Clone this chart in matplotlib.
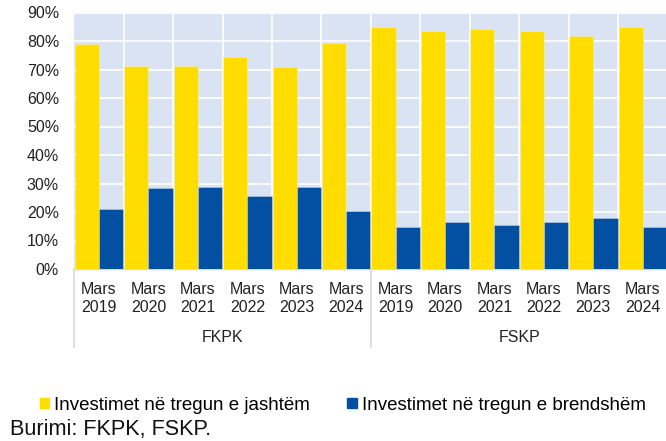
import matplotlib.pyplot as plt
from matplotlib.patches import Patch
from matplotlib.lines import Line2D
from matplotlib.transforms import blended_transform_factory

plt.rcParams["font.family"] = ["Liberation Sans", "DejaVu Sans"]

funds = ["FKPK", "FSKP"]
periods = ["Mars\n2019", "Mars\n2020", "Mars\n2021", "Mars\n2022", "Mars\n2023", "Mars\n2024"]
# share of assets (%), FKPK first then FSKP
foreign = [78.9, 71.3, 71.2, 74.3, 70.9, 79.2,
           84.9, 83.4, 84.2, 83.5, 81.9, 85.0]
domestic = [21.0, 28.5, 28.6, 25.5, 28.9, 20.5,
            14.9, 16.6, 15.6, 16.4, 18.0, 14.8]
legend_labels = ["Investimet në tregun e jashtëm", "Investimet në tregun e brendshëm"]
source = "Burimi: FKPK, FSKP."

yellow = "#FFDD00"
blue = "#0350A2"
grey = "#D9D9D9"

W, H = 666, 441
fig = plt.figure(figsize=(W / 100, H / 100), dpi=100)
ax_left, ax_right, ax_top, ax_bot = 74.3, 667.5, 12.5, 269.0
ax = fig.add_axes([ax_left / W, 1 - ax_bot / H,
                   (ax_right - ax_left) / W, (ax_bot - ax_top) / H])
ax.set_facecolor("#DAE3F3")

n = len(foreign)
xs = list(range(n))
ax.bar([x + 0.255 for x in xs], foreign, width=0.49, color=yellow,
       edgecolor=(1, 1, 1, 0.35), linewidth=0.6, zorder=3)
ax.bar([x + 0.745 for x in xs], domestic, width=0.49, color=blue,
       edgecolor=(1, 1, 1, 0.35), linewidth=0.6, zorder=3)

ax.set_xlim(0, n)
ax.set_ylim(0, 90)
ax.set_yticks(range(0, 91, 10))
ax.set_yticklabels([f"{v}%" for v in range(0, 91, 10)])
ax.set_xticks([x + 0.5 for x in xs])
ax.set_xticklabels(periods * len(funds), linespacing=1.25)
ax.set_xticks(range(1, n), minor=True)

ax.set_axisbelow(True)
ax.grid(axis="y", which="major", color="white", linewidth=1.2)
ax.grid(axis="x", which="minor", color="white", linewidth=1.2)
ax.tick_params(axis="both", which="both", length=0, labelsize=11.5, colors="#222222")
ax.tick_params(axis="y", pad=11)
ax.tick_params(axis="x", pad=9)

for side in ["top", "right", "left"]:
    ax.spines[side].set_visible(False)
ax.spines["bottom"].set_color(grey)
ax.spines["bottom"].set_linewidth(1.0)

# category frame below the axis
trans = blended_transform_factory(ax.transData, ax.transAxes)
frame_bottom = (ax_bot - 347) / (ax_bot - ax_top)
for xv in [0, 6]:
    ax.add_line(Line2D([xv, xv], [0, frame_bottom], transform=trans,
                       color=grey, linewidth=1.2, clip_on=False))
label_y = (ax_bot - 337) / (ax_bot - ax_top)
for i, name in enumerate(funds):
    ax.text(3 + 6 * i, label_y, name, transform=trans, ha="center", va="center",
            fontsize=11.5, color="#222222")

handles = [Patch(color=yellow), Patch(color=blue)]
fig.legend(handles, legend_labels, loc="center left",
           bbox_to_anchor=(40 / W, 1 - 405 / H), ncol=2, frameon=False,
           fontsize=13.5, handlelength=0.5, handleheight=0.5, handletextpad=0.25,
           columnspacing=2.0, borderpad=0, borderaxespad=0)

fig.text(10 / W, 1 - 430 / H, source, fontsize=15.6, va="center", ha="left",
         color="#111111")

fig.savefig("out.png", dpi=100)
